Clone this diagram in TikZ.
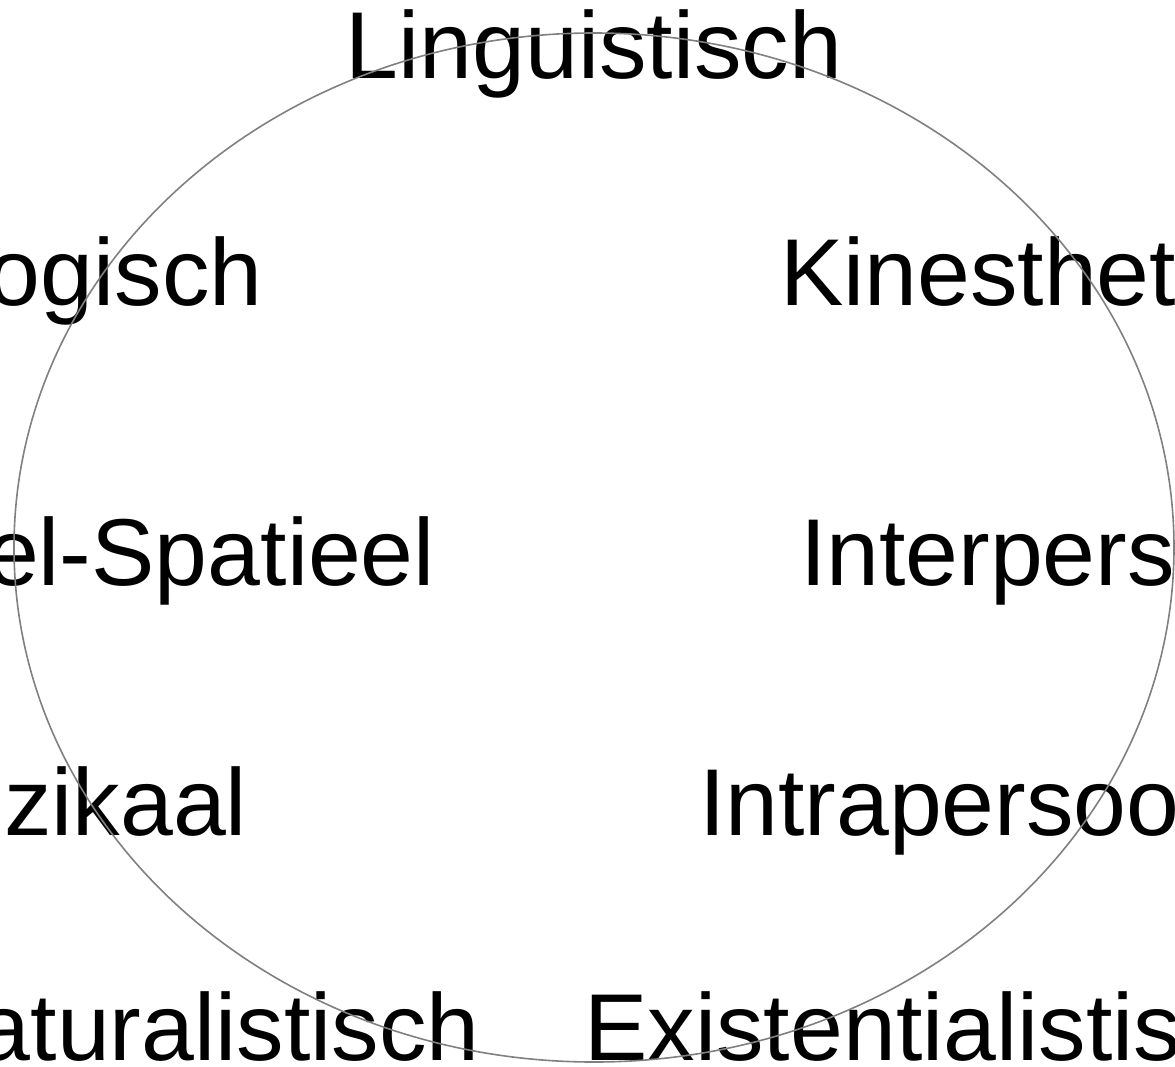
\documentclass[tikz,border=0pt]{standalone}
\usepackage{fontspec}
\setmainfont{Liberation Sans}
\begin{document}
\begin{tikzpicture}[x=1pt,y=-1pt,
  lbl/.style={inner sep=0pt,outer sep=0pt,font=\fontsize{95}{114}\selectfont,text=black},
  lleft/.style={lbl,anchor=base east},
  lright/.style={lbl,anchor=base west},
  ring/.style={draw=black!50,line width=1.6pt}]
\useasboundingbox (0,0) rectangle (1175,1066);
\clip (0,0) rectangle (1175,1066);
\node[lbl,anchor=base] (ling) at (594,78) {Linguistisch};
\node[lleft] (log) at (262.5,305) {Logisch};
\node[lleft] (vis) at (435,585) {Visueel-Spatieel};
\node[lleft] (muz) at (247,835) {Muzikaal};
\node[lleft] (nat) at (479.5,1060) {Naturalistisch};
\node[lright] (kin) at (780,305) {Kinesthetisch};
\node[lright] (inter) at (800,585) {Interpersoonlijk};
\node[lright] (intra) at (699,835) {Intrapersoonlijk};
\node[lright] (exis) at (584.5,1060) {Existentialistisch};
\draw[ring] (594,547.5) ellipse [x radius=580pt, y radius=514.5pt];
\end{tikzpicture}
\end{document}
